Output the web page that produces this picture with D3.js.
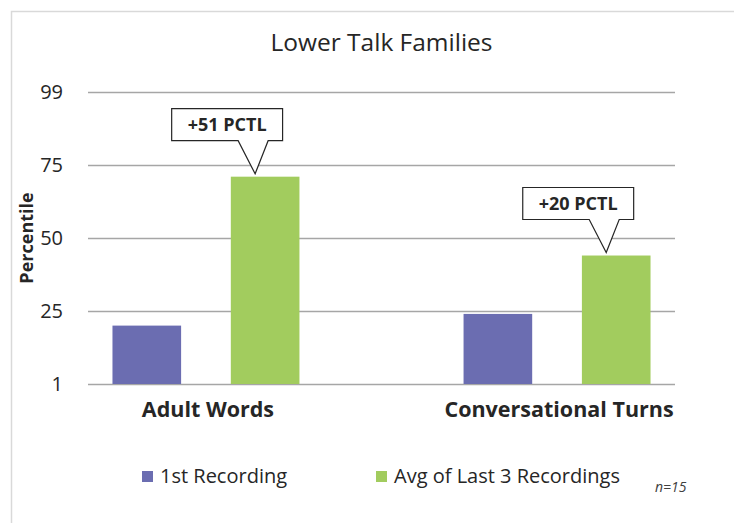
<!DOCTYPE html>
<meta charset="utf-8">
<script src="https://cdn.jsdelivr.net/npm/d3@7"></script>
<style>
body { margin: 0; background: #fff; }
text { font-family: "Open Sans", sans-serif; fill: #262626; }
.grid line { stroke: #a6a6a6; stroke-width: 1.5; }
.y.axis text { font-size: 20px; fill: #262626; }
.label { font-weight: bold; }
</style>
<div id="plot"></div>
<script>
// chart values
var categories = ["Adult Words", "Conversational Turns"];
var seriesNames = ["1st Recording", "Avg of Last 3 Recordings"];
var firstRecording = [20, 24];
var avgLast3 = [71, 44];
var gains = ["+51 PCTL", "+20 PCTL"];
var tickValues = [0, 25, 50, 75, 100];
var tickLabels = ["1", "25", "50", "75", "99"];

var classColors = ["#6b6db1", "#a2cc5e"];

var width = 738, height = 523;
var margin = {top: 92, right: 63, bottom: 139, left: 88};

var svg = d3.select('#plot').append('svg')
  .attr('width', width)
  .attr('height', height);

// chart frame (top and left edge show in the picture)
svg.append('path')
  .attr('d', 'M11.5,' + height + 'V11.5H' + (width - 4))
  .attr('fill', 'none')
  .attr('stroke', '#d9d9d9')
  .attr('stroke-width', 1.5);

var x0 = d3.scaleBand()
  .domain(categories)
  .range([margin.left, width - margin.right])
  .paddingInner(0.4)
  .paddingOuter(0.036);

var x1 = d3.scaleBand()
  .domain(seriesNames)
  .range([0, x0.bandwidth()])
  .paddingInner(0.42)
  .paddingOuter(0.1);

var y = d3.scaleLinear()
  .domain([0, 100])
  .range([height - margin.bottom, margin.top]);

// gridlines
var yGrid = d3.axisLeft(y)
  .tickValues(tickValues)
  .tickSize(-(width - margin.left - margin.right))
  .tickFormat('');

svg.append('g')
  .attr('class', 'grid')
  .attr('transform', 'translate(' + margin.left + ',0)')
  .call(yGrid)
  .call(function(g){ g.select('.domain').remove(); });

var yAxis = d3.axisLeft(y)
  .tickValues(tickValues)
  .tickSize(0)
  .tickPadding(25)
  .tickFormat(function(d, i){ return tickLabels[i]; });

svg.append('g')
  .attr('class', 'y axis')
  .attr('transform', 'translate(' + margin.left + ',0)')
  .call(yAxis)
  .call(function(g){ g.select('.domain').remove(); })
  .selectAll('text')
  .attr('font-family', null);

svg.append('text')
  .attr('class', 'label')
  .attr('transform', 'translate(33,' + y(50) + ') rotate(-90)')
  .attr('text-anchor', 'middle')
  .style('font-size', '18px')
  .text('Percentile');

// title
svg.append('text')
  .attr('x', (margin.left + width - margin.right) / 2)
  .attr('y', 51)
  .attr('text-anchor', 'middle')
  .style('font-size', '24.5px')
  .text('Lower Talk Families');

// bars
var series = [firstRecording, avgLast3];
var groups = svg.selectAll('.group')
  .data(categories)
  .enter().append('g')
  .attr('class', 'group')
  .attr('transform', function(d){ return 'translate(' + x0(d) + ',0)'; });

groups.selectAll('rect')
  .data(function(d, i){
    return seriesNames.map(function(s, j){ return {series: s, value: series[j][i], idx: j}; });
  })
  .enter().append('rect')
  .attr('x', function(d){ return x1(d.series); })
  .attr('width', x1.bandwidth())
  .attr('y', function(d){ return y(d.value); })
  .attr('height', function(d){ return y(0) - y(d.value); })
  .style('fill', function(d){ return classColors[d.idx]; });

// category labels
svg.selectAll('.cat')
  .data(categories)
  .enter().append('text')
  .attr('class', 'label cat')
  .attr('x', function(d){ return x0(d) + x0.bandwidth() / 2 + 2; })
  .attr('y', 417)
  .attr('text-anchor', 'middle')
  .style('font-size', '21.5px')
  .text(function(d){ return d; });

// callouts over the green bars
var callouts = svg.selectAll('.callout')
  .data(categories)
  .enter().append('g')
  .attr('class', 'callout');

callouts.each(function(d, i){
  var g = d3.select(this);
  var tipX = x0(d) + x1(seriesNames[1]) + x1.bandwidth() / 2 - 10;
  var tipY = y(avgLast3[i]) - 3;
  var boxBottom = tipY - 33;
  var boxH = 32;
  var t = g.append('text')
    .attr('class', 'label')
    .attr('text-anchor', 'middle')
    .style('font-size', '18px')
    .text(gains[i]);
  var w = t.node().getComputedTextLength() + 32;
  var cx = tipX - 28;
  var left = cx - w / 2, right = cx + w / 2;
  var path = 'M' + left + ',' + (boxBottom - boxH) +
    'H' + right + 'V' + boxBottom +
    'H' + (tipX + 13) + 'L' + tipX + ',' + tipY +
    'L' + (tipX - 17) + ',' + boxBottom +
    'H' + left + 'Z';
  g.insert('path', 'text')
    .attr('d', path)
    .attr('fill', '#fff')
    .attr('stroke', '#262626')
    .attr('stroke-width', 1.2);
  t.attr('x', cx).attr('y', boxBottom - boxH / 2 + 6.5);
});

// legend
var legendX = [142, 376];
var legend = svg.selectAll('.legend')
  .data(seriesNames)
  .enter().append('g')
  .attr('class', 'legend')
  .attr('transform', function(d, i){ return 'translate(' + legendX[i] + ',471)'; });

legend.append('rect')
  .attr('width', 11)
  .attr('height', 11)
  .style('fill', function(d, i){ return classColors[i]; });

legend.append('text')
  .attr('x', 18)
  .attr('y', 12)
  .style('font-size', '20px')
  .text(function(d){ return d; });

svg.append('text')
  .attr('x', 655)
  .attr('y', 492)
  .style('font-size', '14px')
  .style('font-style', 'italic')
  .style('fill', '#404040')
  .text('n=15');
</script>
